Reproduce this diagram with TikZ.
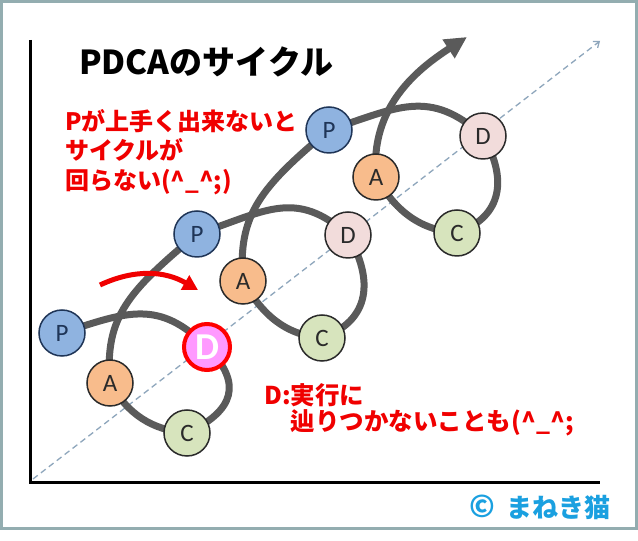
\documentclass[tikz,border=0pt]{standalone}
\usepackage{fontspec}
\newfontfamily\jp{Noto Sans CJK JP}
\newfontfamily\lat{Carlito}
\usetikzlibrary{arrows.meta}
\definecolor{framecol}{HTML}{93ADB0}
\definecolor{dashcol}{HTML}{8EA6BC}
\definecolor{loopcol}{HTML}{5A5A5A}
\definecolor{pfill}{HTML}{8FB3E0}
\definecolor{pdraw}{HTML}{1F3557}
\definecolor{afill}{HTML}{F8BC8C}
\definecolor{dfill}{HTML}{F2DCDB}
\definecolor{cfill}{HTML}{D7E4BD}
\definecolor{cdraw}{HTML}{2A2A2A}
\definecolor{hifill}{HTML}{FF99FF}
\definecolor{txtred}{HTML}{F00000}
\definecolor{copycol}{HTML}{1AA0E0}
\pgfdeclarelayer{bg}
\pgfsetlayers{bg,main}
\tikzset{
  stage/.style={circle, minimum size=46pt, inner sep=0pt, line width=1.5pt,
    font=\lat\fontsize{25}{25}\selectfont, text=cdraw, draw=cdraw},
  pstage/.style={stage, fill=pfill, draw=pdraw, text=pdraw},
  astage/.style={stage, fill=afill},
  dstage/.style={stage, fill=dfill},
  cstage/.style={stage, fill=cfill},
  histage/.style={circle, minimum size=46pt, inner sep=0pt, line width=4pt,
    draw=red, fill=hifill, text=white, font=\lat\bfseries\fontsize{38}{38}\selectfont},
  loop/.style={draw=loopcol, line width=7pt},
  pd/.style={out=18, in=138, looseness=1.2},
  dc/.style={out=-60, in=20, looseness=1.25},
  ca/.style={out=175, in=-60},
  ap/.style={out=95, in=-140, out distance=67pt, in distance=88pt},
  redtxt/.style={text=txtred, font=\jp\bfseries\fontsize{24}{29.5}\selectfont, align=left, inner sep=0pt},
}
\begin{document}
\begin{tikzpicture}[x=1pt,y=1pt]
\useasboundingbox (0,0) rectangle (638,541);
% stages
\node[pstage]  (P1) at (62,208) {P};
\node[astage]  (A1) at (110,158) {A};
\node[cstage]  (C1) at (187,108) {C};
\node[histage] (D1) at (207,194) {D};
\node[pstage]  (P2) at (197,307) {P};
\node[astage]  (A2) at (243,260) {A};
\node[dstage]  (D2) at (348,306) {D};
\node[cstage]  (C2) at (322,203) {C};
\node[pstage]  (P3) at (329,411) {P};
\node[astage]  (A3) at (376,364) {A};
\node[dstage]  (D3) at (483,405) {D};
\node[cstage]  (C3) at (457,308) {C};
% texts
\node[anchor=west, inner sep=0pt, font=\jp\bfseries\fontsize{33}{33}\selectfont] (title) at (79,479) {PDCAのサイクル};
\node[redtxt, anchor=west] (note1) at (65,389) {Pが上手く出来ないと\\サイクルが\\回らない(\^{}\_\^{};)};
\node[redtxt, anchor=west, font=\jp\bfseries\fontsize{24.5}{26}\selectfont] (note2) at (264,131) {D:実行に\\\hphantom{D:}辿りつかないことも(\^{}\_\^{};};
\node[anchor=west, inner sep=0pt, text=copycol, font=\jp\bfseries\fontsize{26}{26}\selectfont] (copy) at (469,34) {{\fontsize{30}{30}\selectfont ©}\hspace{12pt}まねき猫};
% coordinates
\coordinate (ytop) at (30,501);
\coordinate (orig) at (30,58);
\coordinate (xend) at (600,58);
\coordinate (d0) at (33,62);
\coordinate (d1) at (600,500);
\coordinate (tip) at (467,504);
\coordinate (r0) at (100,256);
\coordinate (r1) at (198,251);
\begin{pgfonlayer}{bg}
\fill[white] (0,0) rectangle (638,541);
\draw[framecol, line width=3pt] (1.5,12) rectangle (636.5,539.5);
\draw[line width=3pt] (ytop) -- (orig) -- (xend);
\draw[dashcol, line width=1.3pt, dash pattern=on 6pt off 4pt, -{Straight Barb[length=5pt,width=8pt]}] (d0) -- (d1);
\draw[loop] (P1.center) to[out=18, in=135, looseness=1.2] (D1.center);
\draw[loop] (D1.center) to[out=-45, in=25, looseness=1.5] (C1.center);
\draw[loop] (C1.center) to[ca] (A1.center);
\draw[loop] (A1.center) to[ap] (P2.center);
\draw[loop] (P2.center) to[pd] (D2.center);
\draw[loop] (D2.center) to[dc] (C2.center);
\draw[loop] (C2.center) to[ca] (A2.center);
\draw[loop] (A2.center) to[ap] (P3.center);
\draw[loop] (P3.center) to[pd] (D3.center);
\draw[loop] (D3.center) to[dc] (C3.center);
\draw[loop] (C3.center) to[ca] (A3.center);
\draw[loop, -{Triangle[length=22pt,width=21pt]}] (A3.center) to[out=95, in=213, out distance=70pt, in distance=60pt] (tip);
\draw[txtred, line width=5pt, -{Triangle[length=15pt,width=16pt]}] (r0) to[out=25, in=150] (r1);
\end{pgfonlayer}
\end{tikzpicture}
\end{document}
